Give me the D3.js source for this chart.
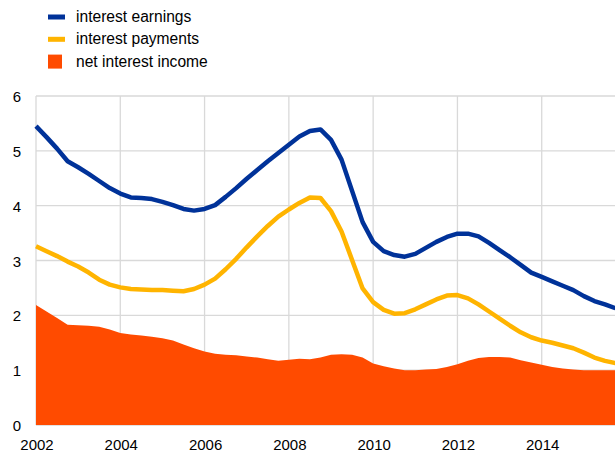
<!DOCTYPE html>
<html>
  <head>
    <style>
      body {
        margin: 0;
        font-family: "Liberation Sans", Arial, Helvetica, sans-serif;
        background: #fff;
      }
      .grid line {
        stroke: #d9d9d9;
        stroke-width: 1.3;
      }
      .axis-label {
        font-size: 15px;
        fill: #000;
      }
      .legend-label {
        font-size: 15.6px;
        fill: #000;
      }
    </style>
  </head>
  <body>
    <script src="https://d3js.org/d3.v7.min.js"></script>
    <script>
      // quarterly observations, 2002 Q1 - 2015 Q4 (decimal year of quarter start)
      const quarters = d3.range(56).map(i => 2002 + i * 0.25);

      const earnings = [
        5.45, 5.25, 5.04, 4.81, 4.70, 4.58, 4.45, 4.32,
        4.22, 4.15, 4.14, 4.12, 4.07, 4.01, 3.94, 3.91,
        3.94, 4.01, 4.16, 4.32, 4.49, 4.65, 4.81, 4.96,
        5.11, 5.26, 5.36, 5.39, 5.20, 4.84, 4.27, 3.70,
        3.34, 3.17, 3.10, 3.07, 3.12, 3.23, 3.34, 3.43,
        3.49, 3.49, 3.44, 3.32, 3.19, 3.06, 2.92, 2.78,
        2.70, 2.62, 2.54, 2.46, 2.35, 2.26, 2.20, 2.13
      ];

      const payments = [
        3.26, 3.17, 3.08, 2.98, 2.89, 2.78, 2.65, 2.56,
        2.51, 2.48, 2.47, 2.46, 2.46, 2.45, 2.44, 2.48,
        2.56, 2.67, 2.84, 3.03, 3.24, 3.44, 3.63, 3.80,
        3.93, 4.05, 4.15, 4.14, 3.90, 3.53, 3.01, 2.49,
        2.24, 2.10, 2.03, 2.04, 2.11, 2.20, 2.29, 2.36,
        2.37, 2.31, 2.20, 2.07, 1.94, 1.81, 1.69, 1.60,
        1.54, 1.50, 1.45, 1.40, 1.32, 1.23, 1.17, 1.13
      ];

      const netIncome = [
        2.19, 2.07, 1.95, 1.83, 1.82, 1.81, 1.79, 1.74,
        1.68, 1.65, 1.63, 1.61, 1.58, 1.54, 1.47, 1.40,
        1.34, 1.30, 1.28, 1.27, 1.25, 1.23, 1.20, 1.17,
        1.19, 1.21, 1.20, 1.23, 1.28, 1.29, 1.28, 1.23,
        1.12, 1.07, 1.03, 1.00, 1.00, 1.01, 1.02, 1.06,
        1.11, 1.17, 1.22, 1.24, 1.24, 1.23, 1.18, 1.14,
        1.10, 1.06, 1.03, 1.01, 1.00, 1.00, 1.00, 1.00
      ];

      const xTicks = [2002, 2004, 2006, 2008, 2010, 2012, 2014];
      const yTicks = [0, 1, 2, 3, 4, 5, 6];

      const seriesNames = ['interest earnings', 'interest payments', 'net interest income'];
      const colors = ['#003299', '#ffb400', '#ff4b00'];

      const width = 615;
      const height = 452;

      const x = d3.scaleLinear()
        .domain([2002, 2016])
        .range([36, 626]);

      const y = d3.scaleLinear()
        .domain([0, 6])
        .range([425, 96]);

      const svg = d3.select('body').append('svg')
        .attr('width', width)
        .attr('height', height);

      // grid
      const grid = svg.append('g').attr('class', 'grid');
      grid.selectAll('.h')
        .data(yTicks)
        .join('line')
        .attr('class', 'h')
        .attr('x1', x(2002))
        .attr('x2', width)
        .attr('y1', d => y(d))
        .attr('y2', d => y(d));
      grid.selectAll('.v')
        .data(xTicks)
        .join('line')
        .attr('class', 'v')
        .attr('x1', d => x(d))
        .attr('x2', d => x(d))
        .attr('y1', y(6))
        .attr('y2', y(0));

      // net interest income area
      const area = d3.area()
        .x((d, i) => x(quarters[i]))
        .y0(y(0))
        .y1(d => y(d));

      svg.append('path')
        .datum(netIncome)
        .attr('fill', colors[2])
        .attr('d', area);

      const line = d3.line()
        .x((d, i) => x(quarters[i]))
        .y(d => y(d));

      svg.append('path')
        .datum(payments)
        .attr('fill', 'none')
        .attr('stroke', colors[1])
        .attr('stroke-width', 4.5)
        .attr('stroke-linejoin', 'round')
        .attr('d', line);

      svg.append('path')
        .datum(earnings)
        .attr('fill', 'none')
        .attr('stroke', colors[0])
        .attr('stroke-width', 4.5)
        .attr('stroke-linejoin', 'round')
        .attr('d', line);

      // axis labels
      svg.append('g')
        .selectAll('text')
        .data(yTicks)
        .join('text')
        .attr('class', 'axis-label')
        .attr('x', 21)
        .attr('y', d => y(d) + 6)
        .attr('text-anchor', 'end')
        .text(d => d);

      svg.append('g')
        .selectAll('text')
        .data(xTicks)
        .join('text')
        .attr('class', 'axis-label')
        .attr('x', d => x(d) + 1)
        .attr('y', 450)
        .attr('text-anchor', 'middle')
        .text(d => d);

      // legend
      const legend = svg.append('g').attr('transform', 'translate(48,0)');
      const rows = legend.selectAll('g')
        .data(seriesNames)
        .join('g')
        .attr('transform', (d, i) => `translate(0,${17 + i * 22.3})`);

      rows.append('rect')
        .attr('x', 0)
        .attr('y', (d, i) => i < 2 ? -2.5 : -7)
        .attr('width', (d, i) => i < 2 ? 17 : 14)
        .attr('height', (d, i) => i < 2 ? 5 : 14)
        .attr('fill', (d, i) => colors[i]);

      rows.append('text')
        .attr('class', 'legend-label')
        .attr('x', 28)
        .attr('y', 5)
        .text(d => d);
    </script>
  </body>
</html>
